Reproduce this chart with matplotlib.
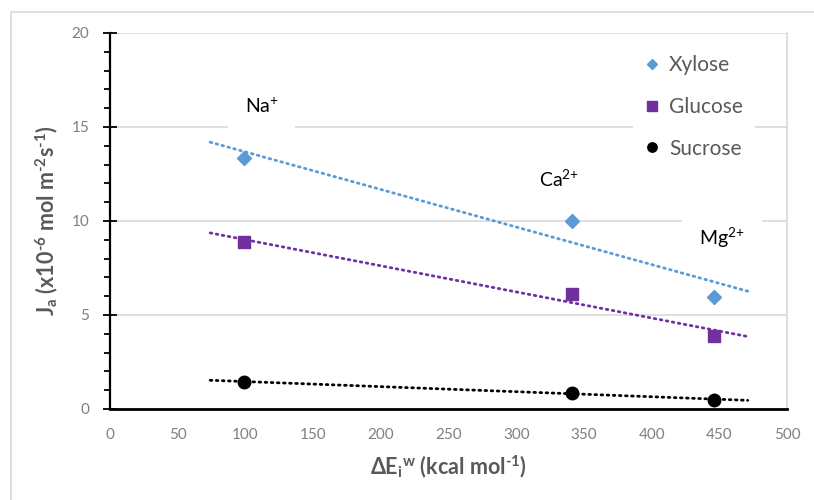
import numpy as np
import matplotlib
matplotlib.use("Agg")
import matplotlib.pyplot as plt
from matplotlib.patches import Rectangle
from matplotlib.ticker import MultipleLocator

plt.rcParams['font.family'] = ['Lato', 'DejaVu Sans']
plt.rcParams['mathtext.fontset'] = 'custom'
plt.rcParams['mathtext.rm'] = 'Lato'
plt.rcParams['mathtext.it'] = 'Lato'
plt.rcParams['mathtext.bf'] = 'Lato:bold'

# data
energy = [99, 341, 446]
xylose = [13.35, 10.0, 5.97]
glucose = [8.88, 6.12, 3.88]
sucrose = [1.45, 0.85, 0.5]
ions = ['Na$^{{+}}$', 'Ca$^{2{+}}$', 'Mg$^{2{+}}$']
ion_pos_x = [112, 332, 452]
ion_pos_y = [16.1, 12.2, 9.1]

fig = plt.figure(figsize=(8.14, 5.00), dpi=100)
fig.patches.append(Rectangle((11/814, -0.1), 1.2, 1 - 12/500 + 0.1, transform=fig.transFigure,
                             fill=False, edgecolor='#d9d9d9', linewidth=1.2))
ax = fig.add_axes([110/814, 1 - 409/500, (787 - 110)/814, (409 - 33)/500])

series = [
    ('Xylose', xylose, '#5b9bd5', 'D', 7),
    ('Glucose', glucose, '#7030a0', 's', 9),
    ('Sucrose', sucrose, 'black', 'o', 9),
]
x = np.array(energy, dtype=float)
for name, vals, col, mk, ms in series:
    ax.plot(x, vals, linestyle='none', marker=mk, color=col, markersize=ms, label=name, zorder=4)
    k, b = np.polyfit(x, vals, 1)
    xs = np.array([x.min() - 25, x.max() + 25])
    ax.plot(xs, k * xs + b, linestyle=(0, (0.6, 1.6)), color=col, linewidth=2.0,
            dash_capstyle='round', zorder=3)

ax.set_xlim(0, 500)
ax.set_ylim(0, 20)
ax.xaxis.set_major_locator(MultipleLocator(50))
ax.yaxis.set_major_locator(MultipleLocator(5))
ax.yaxis.set_minor_locator(MultipleLocator(1))
ax.grid(axis='y', color='#d9d9d9', linewidth=1.2, zorder=0)
ax.set_axisbelow(True)

ax.spines['top'].set_visible(False)
ax.spines['right'].set_color('#d9d9d9')
ax.spines['right'].set_linewidth(1.2)
ax.spines['left'].set_linewidth(1.6)
ax.spines['bottom'].set_linewidth(2.0)

ax.tick_params(axis='x', length=0, pad=14, labelsize=11, labelcolor='#7f7f7f')
ax.tick_params(axis='y', which='major', direction='inout', length=10, width=1.3,
               pad=10, labelsize=11, labelcolor='#7f7f7f')
ax.tick_params(axis='y', which='minor', direction='out', length=4, width=1.3)

ax.set_xlabel('\u0394E$_{\\mathbf{i}}$$^{\\mathbf{w}}$ (kcal mol$^{\\mathbf{\u2010}\\mathbf{1}}$)',
              fontsize=15.5, fontweight='bold', color='#595959', labelpad=8)
ax.set_ylabel('J$_{\\mathbf{a}}$ (x10$^{\\mathbf{\u2010}\\mathbf{6}}$ mol m$^{\\mathbf{\u2010}\\mathbf{2}}$s$^{\\mathbf{\u2010}\\mathbf{1}}$)',
              fontsize=15.5, fontweight='bold', color='#595959', labelpad=8)

for lab, px, py in zip(ions, ion_pos_x, ion_pos_y):
    ax.text(px, py, lab, ha='center', va='center', fontsize=14, color='black', zorder=5,
            bbox=dict(facecolor='white', edgecolor='none', pad=12))

leg = ax.legend(loc='upper left', bbox_to_anchor=(623/814, 1 - 32/500), bbox_transform=fig.transFigure,
                frameon=True, fancybox=False, edgecolor='none', facecolor='white', framealpha=1,
                fontsize=15, labelcolor='#595959', handlelength=0.6, handletextpad=0.5,
                labelspacing=1.05, borderpad=0.6, markerscale=0.75)

fig.savefig('out.png', dpi=100)
